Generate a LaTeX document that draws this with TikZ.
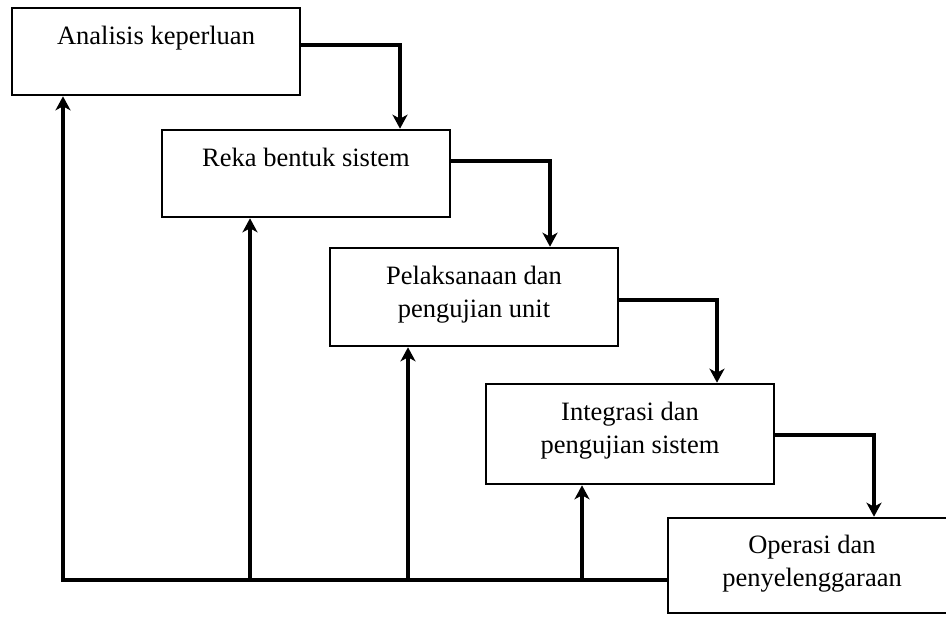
\documentclass[tikz,border=0pt]{standalone}
\usepackage{fontspec}
\setmainfont{Liberation Serif}
\usetikzlibrary{arrows.meta}
\begin{document}
\begin{tikzpicture}[x=1pt,y=-1pt,
  box/.style={draw=black,line width=2.6pt,rectangle,minimum width=288pt,inner sep=0pt,fill=white},
  lbl/.style={anchor=north,inner sep=0pt,align=center,font=\fontsize{26.5}{33}\selectfont},
  arr/.style={line width=3.8pt,line join=miter,-{Stealth[length=14pt,width=15pt,inset=4pt]}}]
\useasboundingbox (0,0) rectangle (946,619);
\clip (0,0) rectangle (946,619);
\fill[white] (0,0) rectangle (946,619);
% boxes
\node[box,minimum height=87pt] (b1) at (156,51.5) {};
\node[box,minimum height=87pt] (b2) at (306,173.5) {};
\node[box,minimum height=98pt] (b3) at (474,297) {};
\node[box,minimum height=100pt] (b4) at (630,434) {};
\node[box,minimum height=95pt,minimum width=340pt] (b5) at (838,565.5) {};
% labels
\node[lbl] (l1) at ([yshift=-14.5pt]b1.north) {\strut Analisis keperluan};
\node[lbl] (l2) at ([yshift=-14.5pt]b2.north) {\strut Reka bentuk sistem};
\node[lbl] (l3) at ([yshift=-14.5pt]b3.north) {\strut Pelaksanaan dan\\pengujian unit};
\node[lbl] (l4) at ([yshift=-14.5pt]b4.north) {\strut Integrasi dan\\pengujian sistem};
\node[lbl] (l5) at ([xshift=-26pt,yshift=-13.5pt]b5.north) {\strut Operasi dan\\penyelenggaraan};
% forward connectors
\coordinate (t1) at (400,45);
\coordinate (t2) at (550,161);
\coordinate (t3) at (717,300);
\coordinate (t4) at (874,435);
\draw[arr] (b1.east |- t1) -- (t1) -- (t1 |- b2.north);
\draw[arr] (b2.east |- t2) -- (t2) -- (t2 |- b3.north);
\draw[arr] (b3.east |- t3) -- (t3) -- (t3 |- b4.north);
\draw[arr] (b4.east |- t4) -- (t4) -- (t4 |- b5.north);
% feedback
\coordinate (fb) at (63,580);
\coordinate (f2) at (250,580);
\coordinate (f3) at (408,580);
\coordinate (f4) at (582,580);
\draw[arr] (b5.west |- fb) -- (fb) -- (fb |- b1.south);
\draw[arr] (f2) -- (f2 |- b2.south);
\draw[arr] (f3) -- (f3 |- b3.south);
\draw[arr] (f4) -- (f4 |- b4.south);
\end{tikzpicture}
\end{document}
